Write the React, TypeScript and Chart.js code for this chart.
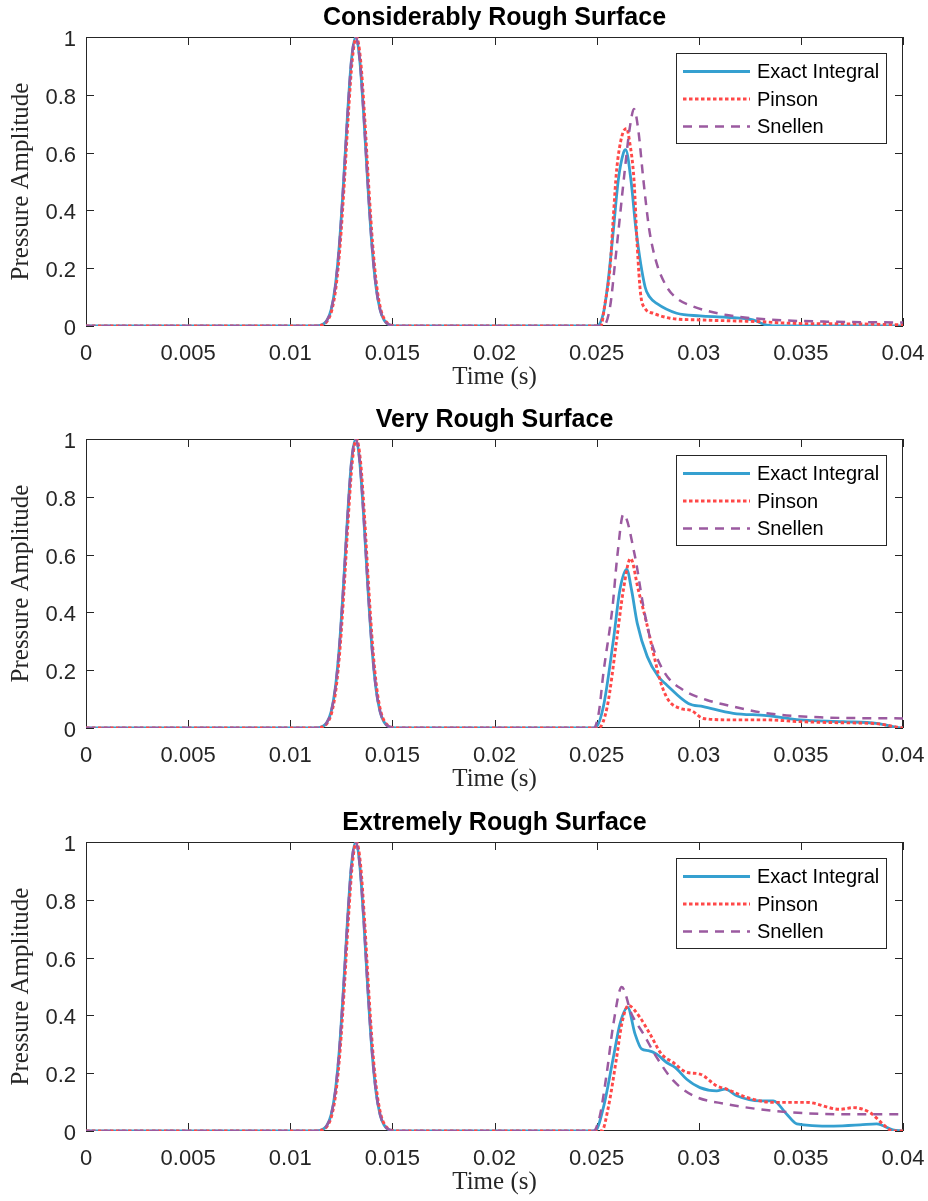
import React, { useEffect, useRef } from 'react';
import { Chart, registerables } from 'chart.js';

Chart.register(...registerables);

// ---------- labels ----------
const panelTitles = ['Considerably Rough Surface', 'Very Rough Surface', 'Extremely Rough Surface'];
const seriesNames = ['Exact Integral', 'Pinson', 'Snellen'];
const xAxisLabel = 'Time (s)';
const yAxisLabel = 'Pressure Amplitude';
const xTickValues = [0, 0.005, 0.01, 0.015, 0.02, 0.025, 0.03, 0.035, 0.04];
const xTickLabels = ['0', '0.005', '0.01', '0.015', '0.02', '0.025', '0.03', '0.035', '0.04'];
const yTickValues = [0, 0.2, 0.4, 0.6, 0.8, 1];
const yTickLabels = ['0', '0.2', '0.4', '0.6', '0.8', '1'];

// ---------- direct pulse (identical in every panel) ----------
const pulseTimes = [0, 0.0112, 0.0116, 0.0118, 0.012, 0.0122, 0.0124, 0.0126, 0.0128, 0.013, 0.0132, 0.0134, 0.0136, 0.0138, 0.014, 0.0142, 0.0144, 0.0146, 0.0148, 0.0152];
const pinsonPulseTimes = [0, 0.01124, 0.01164, 0.01184, 0.01204, 0.01224, 0.01244, 0.01264, 0.01284, 0.01304, 0.01324, 0.01344, 0.01364, 0.01384, 0.01404, 0.01424, 0.01444, 0.01464, 0.01484, 0.01524];
const pulseValues = [0, 0, 0.006, 0.02, 0.056, 0.135, 0.278, 0.487, 0.726, 0.923, 1.0, 0.923, 0.726, 0.487, 0.278, 0.135, 0.056, 0.02, 0.006, 0];

// ---------- reflected pulse: Considerably Rough ----------
const exact1T = [0.025, 0.02533, 0.02557, 0.02582, 0.02606, 0.02631, 0.02642, 0.02668, 0.02693, 0.02737, 0.0276, 0.02794, 0.02892, 0.03006, 0.03137, 0.03266, 0.03333, 0.034, 0.04];
const exact1V = [0, 0.044, 0.159, 0.332, 0.505, 0.598, 0.61, 0.505, 0.332, 0.136, 0.1, 0.078, 0.044, 0.035, 0.03, 0.021, 0.003, 0, 0];
const pinson1T = [0.0252, 0.02541, 0.02566, 0.02582, 0.02598, 0.02623, 0.02647, 0.0266, 0.02683, 0.02699, 0.02715, 0.02737, 0.02778, 0.02859, 0.03006, 0.033, 0.03462, 0.0379, 0.04];
const pinson1V = [0, 0.078, 0.204, 0.38, 0.54, 0.655, 0.684, 0.644, 0.505, 0.275, 0.113, 0.061, 0.044, 0.027, 0.021, 0.015, 0.009, 0.007, 0.004];
const snellen1T = [0.02533, 0.02566, 0.0259, 0.02614, 0.02638, 0.02663, 0.02683, 0.02704, 0.02729, 0.02758, 0.02794, 0.02843, 0.02892, 0.02974, 0.03137, 0.03333, 0.03627, 0.04];
const snellen1V = [0, 0.067, 0.217, 0.378, 0.54, 0.689, 0.751, 0.678, 0.505, 0.332, 0.217, 0.136, 0.096, 0.067, 0.038, 0.023, 0.015, 0.012];

// ---------- reflected pulse: Very Rough ----------
const exact2T = [0.02492, 0.02533, 0.02582, 0.02614, 0.02647, 0.02671, 0.02699, 0.02748, 0.02802, 0.02843, 0.02949, 0.03022, 0.03169, 0.03333, 0.03496, 0.03708, 0.03871, 0.0397, 0.04];
const exact2V = [0, 0.074, 0.304, 0.478, 0.549, 0.478, 0.362, 0.247, 0.178, 0.149, 0.085, 0.074, 0.051, 0.043, 0.028, 0.022, 0.016, 0.002, 0];
const pinson2T = [0.02509, 0.02552, 0.02598, 0.02631, 0.02666, 0.02704, 0.02745, 0.02782, 0.0281, 0.02851, 0.02908, 0.02965, 0.03022, 0.03169, 0.03333, 0.03496, 0.03708, 0.03871, 0.0397, 0.04];
const pinson2V = [0, 0.074, 0.304, 0.478, 0.587, 0.478, 0.362, 0.247, 0.166, 0.097, 0.068, 0.06, 0.033, 0.028, 0.028, 0.022, 0.018, 0.015, 0.003, 0];
const snellen2T = [0.02484, 0.0251, 0.02533, 0.02578, 0.02601, 0.02631, 0.02688, 0.02729, 0.02765, 0.02835, 0.02925, 0.03039, 0.03169, 0.03333, 0.03594, 0.04];
const snellen2V = [0, 0.05, 0.189, 0.42, 0.593, 0.74, 0.593, 0.42, 0.304, 0.189, 0.131, 0.097, 0.074, 0.051, 0.037, 0.033];

// ---------- reflected pulse: Extremely Rough ----------
const exact3T = [0.02492, 0.02533, 0.02582, 0.02614, 0.02652, 0.02688, 0.0272, 0.02753, 0.02794, 0.02843, 0.02884, 0.02941, 0.03006, 0.03088, 0.03129, 0.03186, 0.033, 0.03365, 0.03431, 0.0348, 0.0366, 0.0379, 0.03871, 0.0395, 0.04];
const exact3V = [0, 0.081, 0.255, 0.37, 0.428, 0.336, 0.284, 0.278, 0.266, 0.237, 0.22, 0.179, 0.15, 0.139, 0.145, 0.122, 0.104, 0.104, 0.058, 0.025, 0.017, 0.021, 0.025, 0.004, 0];
const pinson3T = [0.02525, 0.02557, 0.02598, 0.02623, 0.02655, 0.02712, 0.02761, 0.02818, 0.02875, 0.02941, 0.03006, 0.03088, 0.03137, 0.03235, 0.03365, 0.03528, 0.03691, 0.03757, 0.03838, 0.03903, 0.0395, 0.04];
const pinson3V = [0, 0.081, 0.255, 0.37, 0.434, 0.393, 0.336, 0.266, 0.237, 0.203, 0.197, 0.156, 0.145, 0.116, 0.099, 0.099, 0.075, 0.081, 0.064, 0.023, 0, 0];
const snellen3T = [0.02484, 0.02515, 0.02549, 0.02582, 0.02623, 0.02671, 0.02729, 0.02794, 0.02876, 0.02974, 0.03137, 0.033, 0.03463, 0.03708, 0.04];
const snellen3V = [0, 0.05, 0.197, 0.37, 0.498, 0.405, 0.336, 0.255, 0.174, 0.122, 0.093, 0.075, 0.064, 0.058, 0.058];

const panelSeries = [
  [[exact1T, exact1V], [pinson1T, pinson1V], [snellen1T, snellen1V]],
  [[exact2T, exact2V], [pinson2T, pinson2V], [snellen2T, snellen2V]],
  [[exact3T, exact3V], [pinson3T, pinson3V], [snellen3T, snellen3V]],
];

// ---------- styles ----------
const seriesColors = ['#35A0D0', '#FF4848', '#9B5AA0'];
const seriesDash = [[], [3.5, 2.5], [9, 7]];
const seriesWidth = [2.8, 2.9, 2.5];
const seriesOrder = [2, 1, 0];
const panelTops = [0, 402, 805];
const CANVAS_W = 928;
const CANVAS_H = 392;
const INK = '#262626';

function toPoints(ts: number[], vs: number[]) {
  return ts.map((t, i) => ({ x: t, y: vs[i] }));
}

const framePlugin = {
  id: 'matlabFrame',
  beforeDatasetsDraw(chart: any) {
    const { ctx, chartArea, scales } = chart;
    const { left, right, top, bottom } = chartArea;
    const tl = 8;
    ctx.save();
    ctx.strokeStyle = INK;
    ctx.lineWidth = 1;
    ctx.setLineDash([]);
    ctx.strokeRect(left + 0.5, top + 0.5, right - left - 1, bottom - top - 1);
    ctx.beginPath();
    xTickValues.forEach((v) => {
      const px = Math.round(scales.x.getPixelForValue(v)) + 0.5;
      ctx.moveTo(px, bottom);
      ctx.lineTo(px, bottom - tl);
      ctx.moveTo(px, top);
      ctx.lineTo(px, top + tl);
    });
    yTickValues.forEach((v) => {
      const py = Math.round(scales.y.getPixelForValue(v)) + 0.5;
      ctx.moveTo(left, py);
      ctx.lineTo(left + tl, py);
      ctx.moveTo(right, py);
      ctx.lineTo(right - tl, py);
    });
    ctx.stroke();
    ctx.restore();
  },
};

const legendPlugin = {
  id: 'boxLegend',
  afterDatasetsDraw(chart: any) {
    const { ctx, chartArea } = chart;
    const w = 210;
    const h = 90;
    const x0 = Math.round(chartArea.right - 17 - w);
    const y0 = Math.round(chartArea.top + 16);
    ctx.save();
    ctx.fillStyle = '#ffffff';
    ctx.fillRect(x0, y0, w, h);
    ctx.strokeStyle = INK;
    ctx.lineWidth = 1;
    ctx.strokeRect(x0 + 0.5, y0 + 0.5, w, h);
    chart.data.datasets.forEach((ds: any, i: number) => {
      const yy = y0 + 18.5 + i * 27.5;
      ctx.beginPath();
      ctx.setLineDash(ds.borderDash || []);
      ctx.strokeStyle = ds.borderColor;
      ctx.lineWidth = ds.borderWidth;
      ctx.moveTo(x0 + 7, yy);
      ctx.lineTo(x0 + 74, yy);
      ctx.stroke();
      ctx.setLineDash([]);
      ctx.fillStyle = '#000000';
      ctx.font = '20px "Liberation Sans", Arial, sans-serif';
      ctx.textBaseline = 'middle';
      ctx.textAlign = 'left';
      ctx.fillText(ds.label, x0 + 81, yy + 1);
    });
    ctx.restore();
  },
};

function Panel({ index }: { index: number }) {
  const ref = useRef<HTMLCanvasElement | null>(null);
  useEffect(() => {
    if (!ref.current) return;
    const datasets = panelSeries[index].map(([ts, vs], s) => {
      const pulseT = s === 1 ? pinsonPulseTimes : pulseTimes;
      return {
        label: seriesNames[s],
        data: [...toPoints(pulseT, pulseValues), ...toPoints(ts, vs)],
        borderColor: seriesColors[s],
        backgroundColor: seriesColors[s],
        borderWidth: seriesWidth[s],
        borderDash: seriesDash[s],
        borderCapStyle: 'butt',
        pointRadius: 0,
        fill: false,
        cubicInterpolationMode: 'monotone',
        order: seriesOrder[s],
      };
    });
    const chart = new Chart(ref.current, {
      type: 'line',
      data: { datasets } as any,
      options: {
        animation: false,
        responsive: false,
        devicePixelRatio: 1,
        events: [],
        layout: { padding: { left: 0, right: 25, top: 0, bottom: 0 } },
        plugins: {
          legend: { display: false },
          tooltip: { enabled: false },
          title: {
            display: true,
            fullSize: false,
            text: panelTitles[index],
            color: '#000000',
            font: { family: '"Liberation Sans", Arial, sans-serif', size: 25, weight: 'bold', lineHeight: 1.2 },
            padding: { top: 3, bottom: 4 },
          },
        },
        scales: {
          x: {
            type: 'linear',
            min: 0,
            max: 0.04,
            grid: { display: false, drawTicks: false, tickLength: 0 },
            border: { display: false },
            afterBuildTicks: (scale: any) => {
              scale.ticks = xTickValues.map((v) => ({ value: v }));
            },
            afterFit: (scale: any) => {
              scale.height = CANVAS_H - 326;
              scale.paddingLeft = 0;
              scale.paddingRight = 0;
            },
            ticks: {
              autoSkip: false,
              maxRotation: 0,
              padding: 15,
              color: INK,
              font: { family: '"Liberation Sans", Arial, sans-serif', size: 22 },
              callback: (_v: any, i: number) => xTickLabels[i],
            },
            title: {
              display: true,
              text: xAxisLabel,
              color: INK,
              font: { family: '"Liberation Serif", "Times New Roman", serif', size: 25, lineHeight: 1.2 },
              padding: { top: 0, bottom: 0 },
            },
          },
          y: {
            type: 'linear',
            min: 0,
            max: 1,
            grid: { display: false, drawTicks: false, tickLength: 0 },
            border: { display: false },
            afterBuildTicks: (scale: any) => {
              scale.ticks = yTickValues.map((v) => ({ value: v }));
            },
            afterFit: (scale: any) => {
              scale.width = 86;
              scale.paddingTop = 0;
              scale.paddingBottom = 0;
            },
            ticks: {
              autoSkip: false,
              padding: 10,
              labelOffset: 3,
              color: INK,
              font: { family: '"Liberation Sans", Arial, sans-serif', size: 22 },
              callback: (_v: any, i: number) => yTickLabels[i],
            },
            title: {
              display: true,
              text: yAxisLabel,
              color: INK,
              font: { family: '"Liberation Serif", "Times New Roman", serif', size: 25, lineHeight: 1.2 },
              padding: { top: 6, bottom: 0 },
            },
          },
        },
      } as any,
      plugins: [framePlugin, legendPlugin],
    });
    return () => chart.destroy();
  }, [index]);
  return (
    <canvas
      ref={ref}
      width={CANVAS_W}
      height={CANVAS_H}
      style={{ position: 'absolute', left: 0, top: panelTops[index], width: CANVAS_W, height: CANVAS_H }}
    />
  );
}

export default function App() {
  return (
    <div style={{ position: 'absolute', left: 0, top: 0, width: 928, height: 1201, background: '#ffffff', overflow: 'hidden' }}>
      {panelTitles.map((_, i) => (
        <Panel key={i} index={i} />
      ))}
    </div>
  );
}
